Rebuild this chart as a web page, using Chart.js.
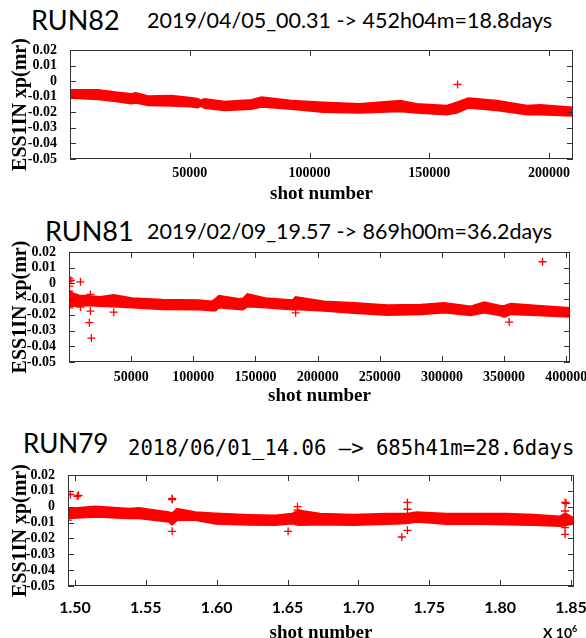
<!DOCTYPE html>
<html>
<head>
<meta charset="utf-8">
<script src="https://cdn.jsdelivr.net/npm/chart.js@4.4.1/dist/chart.umd.min.js"></script>
<style>
  body { margin: 0; width: 586px; height: 638px; overflow: hidden; background: #fff; position: relative; }
  canvas { position: absolute; left: 0; }
  .t { position: absolute; line-height: 1; white-space: nowrap; color: #000; font-family: Lato, sans-serif; }
  .mono { font-family: "DejaVu Sans Mono", monospace; }
</style>
</head>
<body>
<div class="t" style="left:31px;top:6px;font-size:27px">RUN82</div>
<div class="t" style="left:147px;top:10px;font-size:21.5px">2019/04/05_00.31 -&gt; 452h04m=18.8days</div>
<canvas id="c82" width="586" height="170" style="top:36px"></canvas>

<div class="t" style="left:45px;top:217px;font-size:27px">RUN81</div>
<div class="t" style="left:147px;top:221px;font-size:21.5px">2019/02/09_19.57 -&gt; 869h00m=36.2days</div>
<canvas id="c81" width="586" height="214" style="top:206px"></canvas>

<div class="t" style="left:23px;top:430px;font-size:26px">RUN79</div>
<div class="t mono" style="left:128px;top:438px;font-size:20.6px">2018/06/01_14.06 –&gt; 685h41m=28.6days</div>
<canvas id="c79" width="586" height="230" style="top:420px"></canvas>
<div class="t" style="left:543px;top:624px;font-size:14px;font-weight:bold">X 10<sup style="font-size:9px">6</sup></div>

<script>
// RUN82: band edges and outliers
const shots82 = [0, 500, 11700, 19000, 25600, 27500, 32600, 42300, 50000, 53500, 54500, 56200, 64600, 75800, 80000, 92500, 105700, 121000, 137800, 144800, 157300, 161500, 166300, 178200, 190800, 196300, 210000];
const upper82 = [-0.0055, -0.0055, -0.0055, -0.007, -0.0081, -0.0075, -0.0096, -0.0092, -0.0105, -0.0113, -0.0123, -0.0113, -0.013, -0.0119, -0.0102, -0.0124, -0.0135, -0.0145, -0.0124, -0.0145, -0.0156, -0.0135, -0.0109, -0.0124, -0.0156, -0.0152, -0.0167];
const lower82 = [-0.011, -0.011, -0.0118, -0.013, -0.0145, -0.014, -0.0156, -0.016, -0.0165, -0.017, -0.016, -0.0175, -0.0188, -0.018, -0.0166, -0.018, -0.0199, -0.0205, -0.0195, -0.0205, -0.0216, -0.0205, -0.0173, -0.0188, -0.0216, -0.0216, -0.0224];
const outX82 = [161800];
const outY82 = [-0.0021];

// RUN81
const shots81 = [0, 2700, 8000, 13200, 25000, 36000, 50800, 75000, 104400, 115200, 118000, 120600, 136700, 140000, 143400, 158100, 179600, 182300, 205100, 229300, 256100, 283000, 301700, 323200, 334000, 347400, 350000, 355400, 376900, 403000];
const upper81 = [-0.004, -0.006, -0.0075, -0.0077, -0.0085, -0.0072, -0.0092, -0.0102, -0.0105, -0.0113, -0.0095, -0.0077, -0.0098, -0.0095, -0.0066, -0.0092, -0.0105, -0.0085, -0.0113, -0.0123, -0.0138, -0.0134, -0.0123, -0.0145, -0.0119, -0.0142, -0.0142, -0.0127, -0.014, -0.0155];
const lower81 = [-0.015, -0.0145, -0.0145, -0.014, -0.0145, -0.0148, -0.0155, -0.0166, -0.0168, -0.0174, -0.0174, -0.0155, -0.0166, -0.0168, -0.0149, -0.0155, -0.0168, -0.0166, -0.0176, -0.019, -0.0202, -0.0197, -0.0187, -0.0204, -0.0187, -0.0206, -0.0215, -0.0197, -0.0204, -0.0213];
const outX81 = [300, 300, 300, 300, 300, 1500, 9200, 9200, 17200, 17200, 16400, 18000, 36000, 182300, 354100, 380900];
const outY81 = [0.0032, 0.0015, -0.0017, -0.0049, -0.0155, 0.002, 0.001, -0.015, -0.007, -0.0176, -0.025, -0.0348, -0.0183, -0.0187, -0.0246, 0.0138];

// RUN79
const shots79 = [1495100, 1514500, 1538100, 1545100, 1566300, 1568500, 1572100, 1585000, 1599200, 1622700, 1641500, 1653200, 1658000, 1673200, 1696500, 1720000, 1734100, 1741200, 1762300, 1788100, 1804600, 1823400, 1842200, 1846000, 1852100];
const upper79 = [-0.0011, 0.0003, -0.0011, -0.0007, -0.0033, -0.004, -0.0011, -0.0033, -0.0041, -0.005, -0.0054, -0.0043, -0.0022, -0.0043, -0.0049, -0.0043, -0.0043, -0.0033, -0.0043, -0.0043, -0.0043, -0.0049, -0.006, -0.004, -0.0072];
const lower79 = [-0.0075, -0.0065, -0.0075, -0.0075, -0.0096, -0.0115, -0.0086, -0.0086, -0.0109, -0.0116, -0.0117, -0.0107, -0.0117, -0.0113, -0.0117, -0.0111, -0.0106, -0.0096, -0.0111, -0.0111, -0.0113, -0.0117, -0.0123, -0.012, -0.0108];
const outX79 = [1495000, 1496800, 1501600, 1502500, 1568600, 1568600, 1568600, 1650400, 1657000, 1657000, 1734600, 1734600, 1734600, 1730600, 1845800, 1846500, 1845800, 1845800, 1845800, 1495000, 1495000];
const outY79 = [0.0077, 0.0077, 0.0066, 0.0072, 0.0052, 0.0045, -0.0155, -0.0155, 0, -0.0022, 0.0027, -0.0016, -0.0149, -0.0191, 0.0027, 0.0022, -0.0027, -0.0132, -0.0174, -0.0033, -0.0085];

const yTicks = [0.02, 0.01, 0, -0.01, -0.02, -0.03, -0.04, -0.05];

const RED = '#ff0000';
const serifBold = size => ({ family: '"Liberation Serif", "Times New Roman", serif', size: size, weight: 'bold' });

// gnuplot style frame with inward ticks on all four sides
const frame = {
  id: 'frame',
  afterDraw(chart) {
    const { ctx, chartArea: a, scales: { x, y } } = chart;
    ctx.save();
    ctx.strokeStyle = '#333';
    ctx.lineWidth = 1;
    ctx.strokeRect(a.left + 0.5, a.top + 0.5, a.right - a.left - 1, a.bottom - a.top - 1);
    ctx.beginPath();
    x.ticks.forEach(t => {
      const px = Math.round(x.getPixelForValue(t.value)) + 0.5;
      ctx.moveTo(px, a.bottom); ctx.lineTo(px, a.bottom - 6);
      ctx.moveTo(px, a.top); ctx.lineTo(px, a.top + 6);
    });
    y.ticks.forEach(t => {
      const py = Math.round(y.getPixelForValue(t.value)) + 0.5;
      ctx.moveTo(a.left, py); ctx.lineTo(a.left + 6, py);
      ctx.moveTo(a.right, py); ctx.lineTo(a.right - 6, py);
    });
    ctx.stroke();
    ctx.restore();
  }
};

function pts(xs, ys) {
  return xs.map((v, i) => ({ x: v, y: ys[i] }));
}

function makeChart(id, o) {
  new Chart(document.getElementById(id), {
    type: 'line',
    data: {
      datasets: [
        { data: pts(o.shots, o.upper), borderColor: RED, backgroundColor: RED, borderWidth: 1.5, pointRadius: 0, fill: '+1' },
        { data: pts(o.shots, o.lower), borderColor: RED, backgroundColor: RED, borderWidth: 1.5, pointRadius: 0, fill: false },
        { data: pts(o.outX, o.outY), showLine: false, pointStyle: 'cross', pointRadius: 4, borderColor: RED, borderWidth: 1.3 }
      ]
    },
    options: {
      responsive: false,
      animation: false,
      devicePixelRatio: 1,
      layout: { padding: { left: 0, right: o.padRight, top: o.padTop, bottom: 0 } },
      plugins: { legend: { display: false }, tooltip: { enabled: false } },
      scales: {
        x: {
          type: 'linear',
          min: o.xmin,
          max: o.xmax,
          grid: { display: false },
          border: { display: false },
          afterBuildTicks: s => { s.ticks = o.xTicks.map(v => ({ value: v })); },
          afterFit: s => { s.height = o.xHeight; s.paddingLeft = 0; s.paddingRight = 0; },
          ticks: { color: '#000', font: o.xFont, padding: o.xPad, maxRotation: 0, autoSkip: false, callback: o.xFmt },
          title: { display: true, text: 'shot number', color: '#000', font: serifBold(19), padding: { top: 0, bottom: o.titlePad } }
        },
        y: {
          min: -0.05,
          max: 0.02,
          grid: { display: false },
          border: { display: false },
          afterBuildTicks: s => { s.ticks = yTicks.map(v => ({ value: v })); },
          afterFit: s => { s.width = o.yWidth; s.paddingTop = 0; s.paddingBottom = 0; },
          ticks: { color: '#000', font: serifBold(14), padding: 5, autoSkip: false, callback: v => Math.abs(v) < 1e-9 ? '0' : v.toFixed(2) },
          title: { display: true, text: 'ESS1IN xp(mr)', color: '#000', font: serifBold(20), padding: { top: 9, bottom: 0 } }
        }
      }
    },
    plugins: [frame]
  });
}

makeChart('c82', {
  shots: shots82, upper: upper82, lower: lower82, outX: outX82, outY: outY82,
  xmin: 0, xmax: 210000, xTicks: [50000, 100000, 150000, 200000],
  xFmt: v => String(v), xFont: serifBold(14), xPad: -2,
  padTop: 14, padRight: 13, yWidth: 70, xHeight: 47, titlePad: 1
});

makeChart('c81', {
  shots: shots81, upper: upper81, lower: lower81, outX: outX81, outY: outY81,
  xmin: 0, xmax: 403000, xTicks: [50000, 100000, 150000, 200000, 250000, 300000, 350000, 400000],
  xFmt: v => String(v), xFont: serifBold(14), xPad: -1,
  padTop: 46, padRight: 16, yWidth: 69, xHeight: 58, titlePad: 13
});

makeChart('c79', {
  shots: shots79, upper: upper79, lower: lower79, outX: outX79, outY: outY79,
  xmin: 1495100, xmax: 1852100, xTicks: [1500000, 1550000, 1600000, 1650000, 1700000, 1750000, 1800000, 1850000],
  xFmt: v => (v / 1e6).toFixed(2), xFont: { family: 'Lato, sans-serif', size: 16, weight: 'bold' }, xPad: 4,
  padTop: 55, padRight: 12, yWidth: 68, xHeight: 64, titlePad: 6
});
</script>
</body>
</html>
